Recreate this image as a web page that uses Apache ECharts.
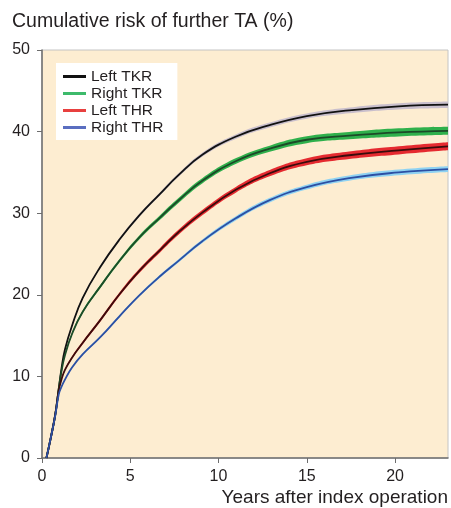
<html>
<head>
<meta charset="utf-8">
<title>Cumulative risk of further TA</title>
<script src="https://cdn.jsdelivr.net/npm/echarts@6/dist/echarts.min.js"></script>
<style>
  body { margin: 0; background: #fff; }
</style>
</head>
<body>
<div id="main" style="width: 451px; height: 508px;"></div>
<script type="text/javascript">
// years after index operation
var years = [0.25, 0.5, 0.75, 0.95, 1.1, 1.3, 1.7, 2.3, 3.3, 4.4, 5.5, 6.7, 7.7, 9.1, 11, 12.9, 15, 17.4, 20.2, 23];

// cumulative risk (%)
var leftTKR  = [0, 2.5, 5.3, 8.5, 10.9, 13.3, 16.2, 19.6, 23.4, 26.8, 29.7, 32.4, 34.6, 37.2, 39.4, 40.8, 41.9, 42.6, 43.1, 43.3];
var rightTKR = [0, 2.5, 5.3, 8.5, 10.6, 12.6, 15.2, 17.9, 21.0, 24.2, 27.0, 29.5, 31.5, 34.0, 36.4, 37.9, 39.0, 39.5, 39.9, 40.1];
var leftTHR  = [0, 2.5, 5.3, 8.3, 9.6, 10.8, 12.3, 14.1, 16.9, 20.1, 22.9, 25.5, 27.6, 30.1, 32.9, 34.9, 36.3, 37.1, 37.7, 38.2];
var rightTHR = [0, 2.5, 5.2, 7.8, 8.7, 9.6, 11.1, 12.7, 14.8, 17.4, 19.9, 22.3, 24.1, 26.6, 29.4, 31.6, 33.2, 34.3, 35.0, 35.4];

// half width of confidence band (%)
var bandLeftTKR  = [0, 0.05, 0.08, 0.1, 0.1, 0.12, 0.12, 0.15, 0.15, 0.18, 0.2, 0.2, 0.22, 0.25, 0.28, 0.3, 0.32, 0.35, 0.38, 0.4];
var bandRightTKR = [0, 0.05, 0.08, 0.1, 0.1, 0.12, 0.15, 0.18, 0.2, 0.22, 0.25, 0.28, 0.3, 0.32, 0.35, 0.38, 0.42, 0.45, 0.5, 0.5];
var bandLeftTHR  = [0, 0.05, 0.08, 0.1, 0.1, 0.12, 0.15, 0.18, 0.2, 0.22, 0.25, 0.28, 0.3, 0.32, 0.35, 0.38, 0.42, 0.45, 0.5, 0.5];
var bandRightTHR = [0, 0.05, 0.06, 0.08, 0.08, 0.1, 0.1, 0.12, 0.12, 0.15, 0.15, 0.18, 0.2, 0.22, 0.25, 0.28, 0.3, 0.32, 0.35, 0.35];

var yTicks = [0, 10, 20, 30, 40, 50];
var xTicks = [0, 5, 10, 15, 20];

var groups = [
  { name: 'Left TKR',  values: leftTKR,  band: bandLeftTKR,  line: '#111111', fill: '#c9bfcc', legend: '#111111' },
  { name: 'Right TKR', values: rightTKR, band: bandRightTKR, line: '#1c4a28', fill: '#2fb04c', legend: '#3dba6b' },
  { name: 'Left THR',  values: leftTHR,  band: bandLeftTHR,  line: '#3a0c0c', fill: '#e52a30', legend: '#e8403f' },
  { name: 'Right THR', values: rightTHR, band: bandRightTHR, line: '#2c4fa3', fill: '#8fd2f2', legend: '#5a6ec0' }
];

var font = '"Liberation Sans", Arial, sans-serif';
var smooth = 0.45;
var series = [];
groups.forEach(function (g, k) {
  // points are [value, year] so the stack runs on the value dimension
  var lower = [], width = [], main = [];
  for (var i = 0; i < years.length; i++) {
    lower.push([g.values[i] - g.band[i], years[i]]);
    width.push([2 * g.band[i], years[i]]);
    main.push([g.values[i], years[i]]);
  }
  series.push({
    type: 'line', stack: 'band' + k, data: lower, encode: { x: 1, y: 0 },
    symbol: 'none', smooth: smooth, lineStyle: { opacity: 0 }, silent: true, z: 2
  });
  series.push({
    type: 'line', stack: 'band' + k, data: width, encode: { x: 1, y: 0 },
    symbol: 'none', smooth: smooth, lineStyle: { opacity: 0 },
    areaStyle: { color: g.fill, opacity: 1 }, silent: true, z: 2
  });
  series.push({
    name: g.name, type: 'line', data: main, encode: { x: 1, y: 0 },
    symbol: 'none', smooth: smooth,
    lineStyle: { color: g.line, width: 1.8 }, itemStyle: { color: g.legend }, z: 3
  });
});

var myChart = echarts.init(document.getElementById('main'));
myChart.setOption({
  animation: false,
  title: {
    text: 'Cumulative risk of further TA (%)',
    left: 7, top: 7,
    textStyle: { fontFamily: font, fontSize: 19.5, fontWeight: 'normal', color: '#231f20' }
  },
  legend: {
    orient: 'vertical',
    left: 56, top: 63,
    backgroundColor: '#ffffff',
    padding: [5, 14, 4, 7],
    itemGap: 0,
    icon: 'rect',
    itemWidth: 23, itemHeight: 3,
    textStyle: { fontFamily: font, fontSize: 15.5, color: '#231f20', lineHeight: 17 },
    data: groups.map(function (g) {
      return { name: g.name, itemStyle: { color: g.legend } };
    })
  },
  grid: {
    left: 42, right: 2, top: 50, bottom: 50,
    show: true, backgroundColor: '#fdedd1', borderColor: '#c4c4c4', borderWidth: 1
  },
  xAxis: {
    type: 'value', min: 0, max: 23, interval: 5,
    name: 'Years after index operation',
    nameLocation: 'end', nameGap: 0,
    nameTextStyle: { fontFamily: font, fontSize: 19, color: '#231f20', align: 'right', verticalAlign: 'top', padding: [30, 0, 0, 0] },
    axisLine: { lineStyle: { color: '#6d6d6d', width: 1.5 } },
    axisTick: { length: 5, lineStyle: { color: '#6d6d6d' }, customValues: xTicks },
    axisLabel: { fontFamily: font, fontSize: 16, color: '#231f20', margin: 11, customValues: xTicks },
    splitLine: { show: false }
  },
  yAxis: {
    type: 'value', min: 0, max: 50, interval: 10,
    axisLine: { show: true, lineStyle: { color: '#6d6d6d', width: 1.5 } },
    axisTick: { show: true, length: 5, lineStyle: { color: '#6d6d6d' }, customValues: yTicks },
    axisLabel: { fontFamily: font, fontSize: 16, color: '#231f20', margin: 12, customValues: yTicks },
    splitLine: { show: false }
  },
  series: series
});
</script>
</body>
</html>
